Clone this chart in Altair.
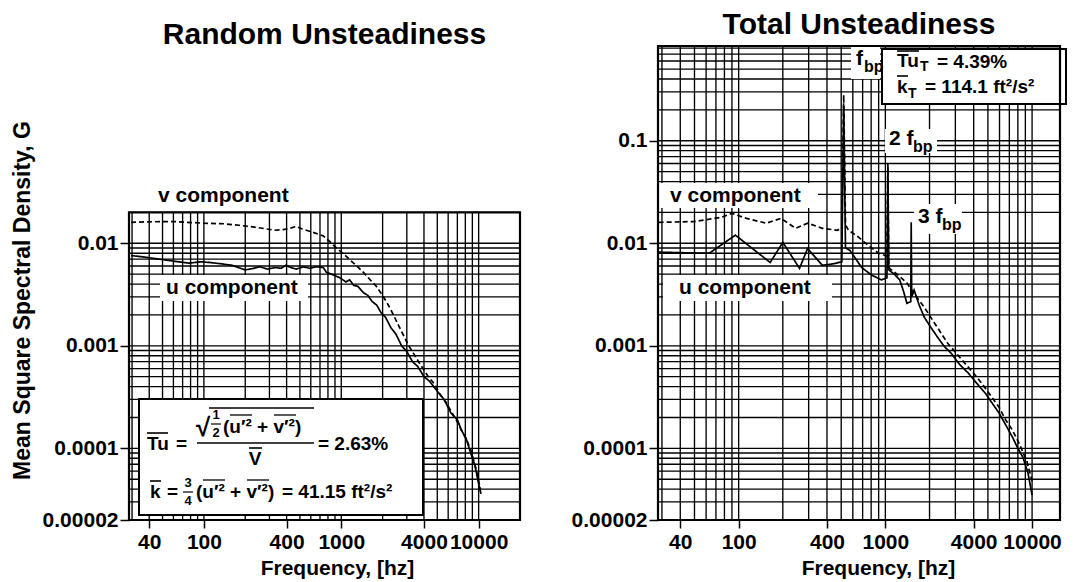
import altair as alt
import pandas as pd

FONT = "Liberation Sans"

# ---------------- values ----------------
# Random Unsteadiness, u component (solid)
ru_f = [29.5, 35, 44, 60, 78, 95, 110, 135, 160, 200, 230, 255, 290, 330, 365, 395, 430, 470, 530, 590,
        660, 740, 780, 850, 980, 1080, 1150, 1230, 1320, 1450, 1560, 1680, 1810, 1950, 2100, 2300, 2500,
        2750, 3000, 3300, 3600, 4000, 4400, 5000, 5600, 6300, 7000, 7500, 8100, 8800, 9400, 10000, 10400]
ru_g = [0.0076, 0.0074, 0.0071, 0.0067, 0.0064, 0.0066, 0.0065, 0.0063, 0.0061, 0.0055, 0.0057, 0.0059,
        0.0056, 0.0058, 0.0057, 0.0061, 0.0058, 0.0056, 0.0059, 0.0057, 0.0059, 0.0058, 0.0052, 0.0050,
        0.0046, 0.0042, 0.0044, 0.0039, 0.0038, 0.0033, 0.0031, 0.0027, 0.0025, 0.0021, 0.0019, 0.0015,
        0.0013, 0.00100, 0.00088, 0.00070, 0.00063, 0.00050, 0.00045, 0.00036, 0.00030, 0.00022, 0.00019,
        0.000150, 0.000125, 0.000088, 0.000068, 0.000045, 0.000036]
# Random Unsteadiness, v component (dashed)
rv_f = [29.5, 40, 60, 100, 140, 180, 240, 330, 380, 420, 470, 520, 600, 740, 830, 920, 1050, 1170, 1300,
        1450, 1600, 1800, 2000, 2200, 2400, 2600, 2850, 3100, 3400, 3700, 4300, 4800, 5200, 5800, 6300,
        7000, 7500, 8200, 8800, 9600, 10300]
rv_g = [0.0160, 0.0162, 0.0163, 0.0157, 0.0155, 0.0150, 0.0143, 0.0134, 0.0136, 0.0140, 0.0146, 0.0138,
        0.0130, 0.0118, 0.0103, 0.0090, 0.0078, 0.0068, 0.0060, 0.0052, 0.0045, 0.0038, 0.0031, 0.0025,
        0.0020, 0.00160, 0.00125, 0.00100, 0.00082, 0.00068, 0.00050, 0.00042, 0.00034, 0.00028, 0.00023,
        0.00018, 0.000150, 0.000120, 0.000095, 0.000062, 0.000040]
# Total Unsteadiness, u component (solid)
tu_f = [28.5, 40, 63, 95, 164, 200, 260, 295, 372, 440, 505, 520, 535, 574, 690, 805, 940, 1025, 1040,
        1055, 1150, 1253, 1330, 1402, 1490, 1500, 1512, 1570, 1700, 1842, 2050, 2272, 2500, 2801, 3200,
        3685, 4200, 4842, 5400, 5968, 6600, 7360, 8000, 8650, 9370, 10000]
tu_g = [0.0082, 0.0081, 0.0080, 0.0120, 0.0065, 0.0102, 0.0057, 0.0089, 0.0061, 0.0063, 0.0066, 0.22,
        0.0090, 0.0085, 0.0058, 0.0049, 0.0044, 0.0046, 0.055, 0.0055, 0.0050, 0.0044, 0.0034, 0.0026,
        0.0027, 0.016, 0.0030, 0.0035, 0.0025, 0.0019, 0.0015, 0.00121, 0.00100, 0.00085, 0.00066,
        0.00054, 0.00043, 0.00034, 0.00027, 0.00022, 0.00017, 0.000128, 0.000100, 0.000082, 0.000058,
        0.000035]
# Total Unsteadiness, v component (dashed)
tv_f = [28.5, 50, 76, 90, 113, 154, 194, 245, 295, 372, 469, 505, 520, 535, 560, 640, 723, 897, 1025,
        1040, 1055, 1066, 1200, 1402, 1600, 1842, 2165, 2660, 3100, 3500, 4000, 4540, 5200, 5968, 6600,
        7360, 8200, 9200, 10000]
tv_g = [0.0160, 0.0163, 0.0179, 0.0196, 0.0175, 0.0157, 0.0175, 0.0140, 0.0157, 0.0140, 0.0134, 0.0140,
        0.28, 0.0152, 0.0134, 0.0118, 0.0102, 0.0080, 0.0075, 0.060, 0.0062, 0.0057, 0.0050, 0.0041,
        0.0031, 0.00238, 0.00166, 0.00106, 0.00082, 0.00067, 0.00054, 0.00043, 0.00033, 0.00025, 0.00019,
        0.00015, 0.000110, 0.000075, 0.000048]

x_ticks = [40, 100, 400, 1000, 4000, 10000]
y_ticks_left = [0.01, 0.001, 0.0001, 0.00002]
y_ticks_right = [0.1, 0.01, 0.001, 0.0001, 0.00002]
grid_f = [30, 40, 50, 60, 70, 80, 90, 100, 200, 300, 400, 500, 600, 700, 800, 900,
          1000, 2000, 3000, 4000, 5000, 6000, 7000, 8000, 9000, 10000]
grid_g = [2e-5, 3e-5, 4e-5, 5e-5, 6e-5, 7e-5, 8e-5, 9e-5,
          1e-4, 2e-4, 3e-4, 4e-4, 5e-4, 6e-4, 7e-4, 8e-4, 9e-4,
          1e-3, 2e-3, 3e-3, 4e-3, 5e-3, 6e-3, 7e-3, 8e-3, 9e-3,
          0.01, 0.02, 0.03, 0.04, 0.05, 0.06, 0.07, 0.08, 0.09,
          0.1, 0.2, 0.3, 0.4, 0.5, 0.6, 0.7, 0.8]

YDOM = [0.00002, 0.84]
H = 474
PLOT_TOP = 45


def placer(origin_x, xdom, width):
    """Annotation placement: page position of a label -> value on the panel's log scales."""
    def at(px, py):
        f = xdom[0] * (xdom[1] / xdom[0]) ** ((px - origin_x) / width)
        g = YDOM[1] * (YDOM[0] / YDOM[1]) ** ((py - PLOT_TOP) / H)
        return f, g
    return at


def panel(xdom, width, origin_x, g_top, yticks, ytitle, ytitle_opts, xtitle_x, u_f, u_g, v_f, v_g,
          plain_boxes, framed_boxes, texts, rules, title):
    at = placer(origin_x, xdom, width)
    xs = alt.Scale(type="log", domain=xdom, nice=False)
    ys = alt.Scale(type="log", domain=YDOM, nice=False)
    xa = alt.Axis(values=x_ticks, format="d", title="Frequency, [hz]", titleFontSize=21,
                  titleX=xtitle_x, titleY=48, titleAlign="center", titleBaseline="middle",
                  tickSize=8, labelPadding=3, labelOverlap=False, labelFlush=False)
    ya = alt.Axis(values=yticks, format=".5~f", title=ytitle, tickSize=9, labelPadding=2,
                  labelOverlap=False, labelFlush=False, **ytitle_opts)

    def X(field):
        return alt.X(field, type="quantitative", scale=xs, axis=xa)

    def Y(field):
        return alt.Y(field, type="quantitative", scale=ys, axis=ya)

    layers = []
    vg = pd.DataFrame({"f": grid_f, "g": YDOM[0], "g2": g_top})
    layers.append(alt.Chart(vg).mark_rule(color="black", strokeWidth=1.35).encode(
        x=X("f"), y=Y("g"), y2="g2"))
    hg = pd.DataFrame({"g": [g for g in grid_g if g <= g_top], "f": xdom[0], "f2": xdom[1]})
    layers.append(alt.Chart(hg).mark_rule(color="black", strokeWidth=1.35).encode(
        x=X("f"), x2="f2", y=Y("g")))

    cd = pd.concat([
        pd.DataFrame({"f": u_f, "g": u_g, "comp": "u"}),
        pd.DataFrame({"f": v_f, "g": v_g, "comp": "v"}),
    ])
    layers.append(alt.Chart(cd).mark_line(color="black", strokeWidth=1.7).encode(
        x=X("f"), y=Y("g"), detail="comp:N",
        strokeDash=alt.StrokeDash("comp:N", scale=alt.Scale(domain=["u", "v"], range=[[1, 0], [5, 3]]),
                                  legend=None)))

    def boxes(spec):
        rows = []
        for (x0, x1, y0, y1) in spec:
            f0, g0 = at(x0, y0)
            f1, g1 = at(x1, y1)
            rows.append({"f": f0, "f2": f1, "g": g0, "g2": g1})
        return pd.DataFrame(rows)

    if plain_boxes:
        layers.append(alt.Chart(boxes(plain_boxes)).mark_rect(fill="white").encode(
            x=X("f"), x2="f2", y=Y("g"), y2="g2"))
    if framed_boxes:
        layers.append(alt.Chart(boxes(framed_boxes)).mark_rect(
            fill="white", stroke="black", strokeWidth=2).encode(
            x=X("f"), x2="f2", y=Y("g"), y2="g2"))

    groups = {}
    for (px, py, t, size, align) in texts:
        f, g = at(px, py)
        groups.setdefault((size, align), []).append({"f": f, "g": g, "t": t})
    for (size, align), rows in groups.items():
        layers.append(alt.Chart(pd.DataFrame(rows)).mark_text(
            align=align, baseline="middle", font=FONT, fontWeight="bold", fontSize=size,
            color="black").encode(x=X("f"), y=Y("g"), text="t:N"))

    if rules:
        rrows = []
        for (x0, x1, py, w) in rules:
            f0, g = at(x0, py)
            f1, _ = at(x1, py)
            rrows.append({"f": f0, "f2": f1, "g": g, "w": w})
        for w in sorted(set(r["w"] for r in rrows)):
            sub = pd.DataFrame([r for r in rrows if r["w"] == w])
            layers.append(alt.Chart(sub).mark_rule(color="black", strokeWidth=w).encode(
                x=X("f"), x2="f2", y=Y("g")))

    fr = pd.DataFrame({"f": [xdom[0]], "f2": [xdom[1]], "g": [YDOM[0]], "g2": [g_top]})
    layers.append(alt.Chart(fr).mark_rect(fill="transparent", stroke="black", strokeWidth=2.2).encode(
        x=X("f"), x2="f2", y=Y("g"), y2="g2"))

    return alt.layer(*layers).properties(width=width, height=H, title=title)


left = panel(
    xdom=[28.5, 20000], width=391, origin_x=129, g_top=0.02, yticks=y_ticks_left,
    ytitle="Mean Square Spectral Density, G",
    ytitle_opts=dict(titleFontSize=23, titleX=-107, titleY=254, titleAngle=270,
                     titleAlign="center", titleBaseline="middle"),
    xtitle_x=208,
    u_f=ru_f, u_g=ru_g, v_f=rv_f, v_g=rv_g,
    plain_boxes=[(160, 308, 274, 300)],
    framed_boxes=[(139, 423, 398, 514)],
    texts=[
        (158, 195, "v component", 21, "left"),
        (166, 287, "u component", 21, "left"),
        (147, 443, "Tu", 19, "left"),
        (176, 443, "=", 19, "left"),
        (196, 427, "√", 26, "left"),
        (216, 414, "1", 13, "center"),
        (216, 432, "2", 13, "center"),
        (223, 426, "(u′² + v′²)", 19, "left"),
        (255, 458, "V", 19, "center"),
        (318, 443, "= 2.63%", 19, "left"),
        (150, 491, "k", 19, "left"),
        (167, 491, "=", 19, "left"),
        (188, 482, "3", 13, "center"),
        (188, 500, "4", 13, "center"),
        (196, 491, "(u′² + v′²)", 19, "left"),
        (282, 491, "= 41.15 ft²/s²", 19, "left"),
    ],
    rules=[
        (147, 168, 432, 1.6),   # over Tu
        (209, 314, 407, 1.6),   # radical
        (211, 221, 423, 1.2),   # 1/2
        (230, 252, 414, 1.3),   # over u'2
        (274, 296, 414, 1.3),   # over v'2
        (197, 314, 442, 1.6),   # fraction bar
        (249, 262, 447, 1.6),   # over V
        (150, 161, 480, 1.6),   # over k
        (183, 193, 491, 1.2),   # 3/4
        (203, 225, 479, 1.3),   # over u'2
        (247, 269, 479, 1.3),   # over v'2
    ],
    title=alt.TitleParams("Random Unsteadiness", offset=5, dy=9),
)

right = panel(
    xdom=[28.2, 15500], width=402, origin_x=658, g_top=0.84, yticks=y_ticks_right,
    ytitle="", ytitle_opts=dict(),
    xtitle_x=220,
    u_f=tu_f, u_g=tu_g, v_f=tv_f, v_g=tv_g,
    plain_boxes=[
        (658, 818, 182, 207),
        (663, 832, 274, 300),
        (851, 880, 46, 78),
        (885, 937, 128, 152),
        (914, 962, 203, 233),
    ],
    framed_boxes=[(882, 1066, 48, 103)],
    texts=[
        (670, 195, "v component", 21, "left"),
        (679, 287, "u component", 21, "left"),
        (856, 58, "f", 21, "left"),
        (864, 66, "bp", 16, "left"),
        (889, 138, "2 f", 21, "left"),
        (913, 146, "bp", 16, "left"),
        (918, 216, "3 f", 21, "left"),
        (942, 224, "bp", 16, "left"),
        (897, 60, "Tu", 19, "left"),
        (920, 66, "T", 14, "left"),
        (937, 61, "= 4.39%", 19, "left"),
        (897, 86, "k", 19, "left"),
        (908, 93, "T", 14, "left"),
        (925, 86, "= 114.1 ft²/s²", 19, "left"),
    ],
    rules=[
        (897, 919, 50, 1.6),
        (897, 908, 75, 1.6),
    ],
    title=alt.TitleParams("Total Unsteadiness", offset=5),
)

chart = alt.hconcat(left, right, spacing=138, bounds="flush").properties(
    padding={"left": 2, "top": 1, "right": 4, "bottom": 0}
).configure_axis(
    labelFont=FONT, labelFontSize=21, labelFontWeight="bold", labelColor="black",
    titleFont=FONT, titleFontWeight="bold", titleColor="black",
    tickColor="black", tickWidth=1.5, domain=False, grid=False,
).configure_view(stroke="transparent").configure_title(
    font=FONT, fontSize=30, fontWeight="bold", color="black", anchor="middle"
)

chart.save("out.html", embed_options={"renderer": "svg", "actions": False})
